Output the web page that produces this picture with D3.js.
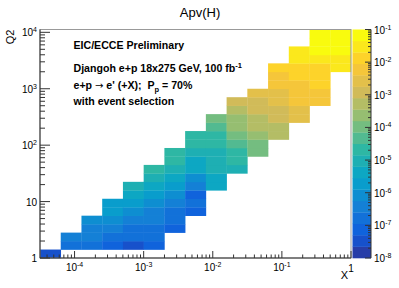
<!DOCTYPE html>
<html><head><meta charset="utf-8">
<script src="https://cdn.jsdelivr.net/npm/d3@7"></script>
<style>body{margin:0;background:#fff} svg{display:block} text{font-family:"Liberation Sans",Arial,Helvetica,sans-serif}</style>
</head><body><svg id="c" width="399" height="288"></svg>
<script>
// log10 bin edges of the 2D histogram
const xEdgesLog = [-4.5,-4.2,-3.9,-3.6,-3.3,-3.0,-2.7,-2.4,-2.1,-1.8,-1.5,-1.2,-0.9,-0.6,-0.3,0];
const yEdgesLog = [0,0.15,0.3,0.45,0.6,0.75,0.9,1.05,1.2,1.35,1.5,1.65,1.8,1.95,2.1,2.25,2.4,2.55,2.7,2.85,3.0,3.15,3.3,3.45,3.6,3.75,3.9,4.05];
// first filled y-bin of each x-bin column
const colFirstRow = [0,1,1,1,1,1,3,5,8,10,12,14,16,18,22];
// Apv values per column, from first filled row upwards
const colValues = [
  [3.3e-8],
  [1.7e-7,3.8e-7],
  [1.7e-7,3.8e-7,3.8e-7,8.4e-7],
  [7.5e-8,1.7e-7,3.8e-7,8.4e-7,1.9e-6,1.9e-6],
  [3.3e-8,1.7e-7,1.7e-7,3.8e-7,8.4e-7,1.9e-6,4.2e-6,9.4e-6],
  [7.5e-8,1.7e-7,1.7e-7,3.8e-7,3.8e-7,8.4e-7,1.9e-6,4.2e-6,9.4e-6,2.1e-5],
  [7.5e-8,1.7e-7,1.7e-7,3.8e-7,8.4e-7,1.9e-6,4.2e-6,9.4e-6,2.1e-5,2.1e-5],
  [7.5e-8,1.7e-7,7.5e-8,3.8e-7,8.4e-7,4.2e-6,4.2e-6,9.4e-6,2.1e-5,2.1e-5],
  [4.2e-6,4.2e-6,9.4e-6,9.4e-6,9.4e-6,2.1e-5,2.1e-5,4.7e-5,1.06e-4],
  [9.4e-6,2.1e-5,2.1e-5,4.7e-5,1.06e-4,2.4e-4,2.4e-4,5.3e-4,1.2e-3],
  [1.06e-4,1.06e-4,2.4e-4,5.3e-4,5.3e-4,1.2e-3,1.2e-3,2.7e-3],
  [5.3e-4,5.3e-4,1.2e-3,1.2e-3,2.7e-3,2.7e-3,6e-3,6e-3,1.33e-2],
  [2.7e-3,2.7e-3,6e-3,6e-3,6e-3,1.33e-2,1.33e-2,3e-2,3e-2],
  [6e-3,6e-3,1.33e-2,1.33e-2,1.33e-2,3e-2,6.7e-2,6.7e-2,6.7e-2],
  [3e-2,3e-2,6.7e-2,6.7e-2,6.7e-2]
];
const xTickExp = [-4,-3,-2,-1,0];
const yTickExp = [0,1,2,3,4];
const zTickExp = [-8,-7,-6,-5,-4,-3,-2,-1];
const zRangeExp = [-8,-1];
const nContours = 20;
const titleText = "Apv(H)";
const xTitle = "X", yTitle = "Q2";

// cells
const cells = [];
colValues.forEach((vals,i)=>vals.forEach((v,k)=>{
  const j = colFirstRow[i]+k;
  cells.push({x0:Math.pow(10,xEdgesLog[i]),x1:Math.pow(10,xEdgesLog[i+1]),
              y0:Math.pow(10,yEdgesLog[j]),y1:Math.pow(10,yEdgesLog[j+1]),v});
}));

const svg = d3.select("#c");
const L=40,R=351,T=29.5,B=258;
const x = d3.scaleLog().domain([Math.pow(10,xEdgesLog[0]),Math.pow(10,xEdgesLog[xEdgesLog.length-1])]).range([L,R]);
const y = d3.scaleLog().domain([Math.pow(10,yEdgesLog[0]),Math.pow(10,yEdgesLog[yEdgesLog.length-1])]).range([B,T]);

// kBird palette
const stops=[0,0.125,0.25,0.375,0.5,0.625,0.75,0.875,1];
const red=[0.2082,0.0592,0.0780,0.0232,0.1802,0.5301,0.8186,0.9956,0.9764];
const green=[0.1664,0.3599,0.5041,0.6419,0.7178,0.7492,0.7328,0.7862,0.9832];
const blue=[0.5293,0.8684,0.8385,0.7914,0.6425,0.4662,0.3499,0.1968,0.0539];
const birdScale = d3.scaleLinear().domain(stops).range(stops.map((s,i)=>d3.rgb(red[i]*255,green[i]*255,blue[i]*255))).interpolate(d3.interpolateRgb);
const ncol=255;
const bandColor = k => birdScale(Math.floor((k+0.99)*ncol/nContours)/(ncol-1));
const z = d3.scaleLog().domain(zRangeExp.map(e=>Math.pow(10,e))).range([0,nContours]);
const colorOf = v => bandColor(Math.max(0,Math.min(nContours-1,Math.floor(z(v)))));

svg.append("g").selectAll("rect").data(cells).join("rect")
  .attr("x",d=>x(d.x0)).attr("y",d=>y(d.y1))
  .attr("width",d=>x(d.x1)-x(d.x0)+0.3).attr("height",d=>y(d.y0)-y(d.y1)+0.3)
  .attr("fill",d=>colorOf(d.v));

// frame
svg.append("rect").attr("x",L).attr("y",T).attr("width",R-L).attr("height",B-T)
  .attr("fill","none").attr("stroke","#999").attr("stroke-width",1);

// helpers for 10^n labels
function powLabel(g,e,xp,yp,anchor,fs){
  const t=g.append("text").attr("x",xp).attr("y",yp).attr("font-size",fs).attr("text-anchor",anchor).attr("fill","#000");
  if(e===0){t.text("1");return t;}
  if(e===1){t.text("10");return t;}
  t.append("tspan").text("10");
  t.append("tspan").attr("dy",-4).attr("font-size",fs*0.7).text(e);
  return t;
}

const ax = svg.append("g").attr("stroke","#000").attr("stroke-width",1);
// x axis
ax.append("line").attr("x1",L).attr("x2",R).attr("y1",B).attr("y2",B).attr("stroke","#333");
const xMinor=[];
for(let e=-5;e<=0;e++) for(let m=2;m<=9;m++){const v=m*Math.pow(10,e); if(v>=x.domain()[0]&&v<=x.domain()[1]) xMinor.push(v);}
ax.selectAll(".xm").data(xMinor).join("line").attr("x1",d=>x(d)).attr("x2",d=>x(d)).attr("y1",B).attr("y2",B-3.5).attr("stroke","#333");
ax.selectAll(".xM").data(xTickExp).join("line").attr("x1",d=>x(Math.pow(10,d))).attr("x2",d=>x(Math.pow(10,d))).attr("y1",B).attr("y2",B-7).attr("stroke","#333");
// y axis
ax.append("line").attr("x1",L).attr("x2",L).attr("y1",B).attr("y2",T).attr("stroke","#333");
const yMinor=[];
for(let e=0;e<=4;e++) for(let m=2;m<=9;m++){const v=m*Math.pow(10,e); if(v<=y.domain()[1]) yMinor.push(v);}
ax.selectAll(".ym").data(yMinor).join("line").attr("x1",L).attr("x2",L+5).attr("y1",d=>y(d)).attr("y2",d=>y(d)).attr("stroke","#333");
ax.selectAll(".yM").data(yTickExp).join("line").attr("x1",L).attr("x2",L+10).attr("y1",d=>y(Math.pow(10,d))).attr("y2",d=>y(Math.pow(10,d))).attr("stroke","#333");

const lab = svg.append("g");
xTickExp.forEach(e=>powLabel(lab,e,x(Math.pow(10,e)),e===0?272:271,"middle",10));
yTickExp.forEach(e=>powLabel(lab,e,37,y(Math.pow(10,e))+4,"end",10));

// palette
const PL=352.5,PR=371;
const pz = d3.scaleLog().domain(zRangeExp.map(e=>Math.pow(10,e))).range([B,T]);
const bands=d3.range(nContours);
const bh=(B-T)/nContours;
svg.append("g").selectAll("rect").data(bands).join("rect")
  .attr("x",PL).attr("width",PR-PL).attr("y",k=>B-(k+1)*bh).attr("height",bh+0.3).attr("fill",k=>bandColor(k));
const zMinor=[];
for(let e=-8;e<-1;e++) for(let m=2;m<=9;m++) zMinor.push(m*Math.pow(10,e));
const pax=svg.append("g").attr("stroke","#333");
pax.append("line").attr("x1",PR).attr("x2",PR).attr("y1",T).attr("y2",B);
pax.selectAll(".zm").data(zMinor).join("line").attr("x1",PR).attr("x2",PR-3).attr("y1",d=>pz(d)).attr("y2",d=>pz(d));
pax.selectAll(".zM").data(zTickExp).join("line").attr("x1",PR).attr("x2",PR-6).attr("y1",d=>pz(Math.pow(10,d))).attr("y2",d=>pz(Math.pow(10,d)));
zTickExp.forEach(e=>powLabel(lab,e,374,pz(Math.pow(10,e))+4,"start",10));

// titles
svg.append("text").attr("x",200).attr("y",17).attr("text-anchor","middle").attr("font-size",13).text(titleText);
svg.append("text").attr("x",R-3).attr("y",279).attr("text-anchor","end").attr("font-size",11).text(xTitle);
svg.append("text").attr("transform",`translate(14,${T}) rotate(-90)`).attr("text-anchor","end").attr("font-size",11).text(yTitle);

// annotation
const ann = svg.append("g").attr("font-weight","bold").attr("font-size",10.6);
ann.append("text").attr("x",73.5).attr("y",49).text("EIC/ECCE Preliminary");
const l2=ann.append("text").attr("x",73.5).attr("y",72);
l2.append("tspan").text("Djangoh e+p 18x275 GeV, 100 fb");
l2.append("tspan").attr("dy",-4).attr("font-size",7.5).text("-1");
const l3=ann.append("text").attr("x",73.5).attr("y",89).attr("xml:space","preserve");
l3.append("tspan").text("e+p ");
l3.append("tspan").attr("font-family","DejaVu Sans").attr("font-weight","normal").attr("font-size",10).text("\u2192");
l3.append("tspan").text(" e' (+X);\u00a0\u00a0P");
l3.append("tspan").attr("dy",3).attr("font-size",7.5).text("p");
l3.append("tspan").attr("dy",-3).text(" = 70%");
ann.append("text").attr("x",73.5).attr("y",105).text("with event selection");
</script></body></html>
